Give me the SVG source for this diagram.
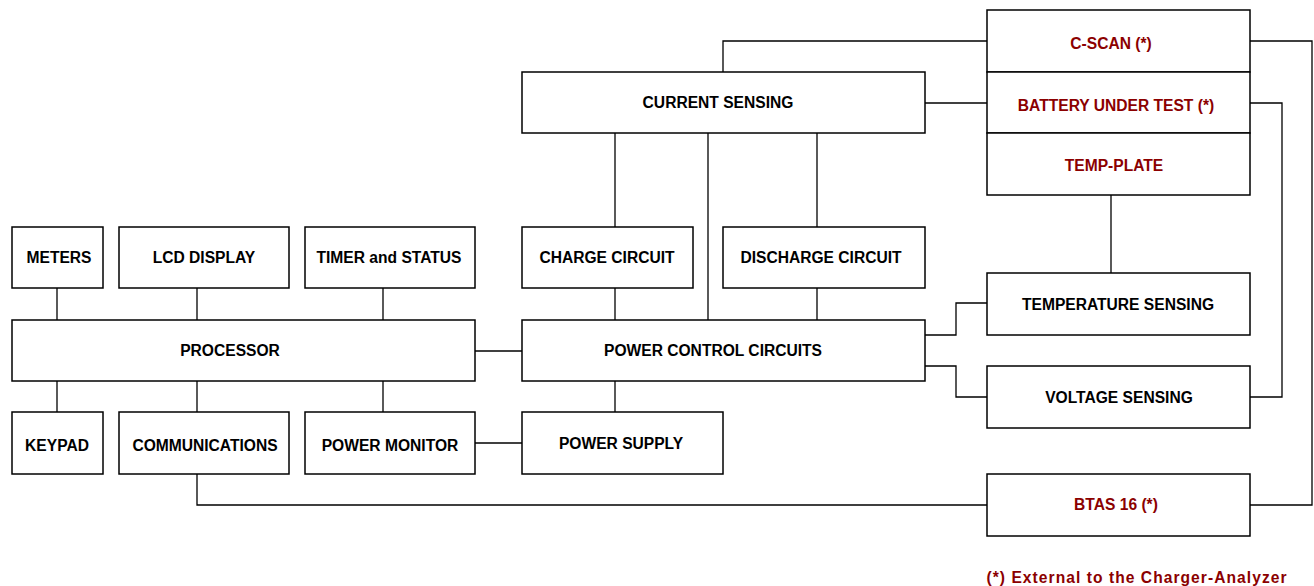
<svg xmlns="http://www.w3.org/2000/svg" width="1314" height="586" viewBox="0 0 1314 586">
<style>
rect{fill:#fff;stroke:#000;stroke-width:1.5}
.c path,.c line{fill:none;stroke:#000;stroke-width:1.3}
text{font-family:"Liberation Sans",Arial,sans-serif;font-weight:bold;font-size:15.6px;text-anchor:middle;fill:#000}
.r{fill:#8B0000}
</style>
<rect width="1314" height="586" style="fill:#fff;stroke:none"/>
<g class="c">
<line x1="57" y1="288" x2="57" y2="320"/>
<line x1="197" y1="288" x2="197" y2="320"/>
<line x1="383" y1="288" x2="383" y2="320"/>
<line x1="57" y1="381" x2="57" y2="412"/>
<line x1="197" y1="381" x2="197" y2="412"/>
<line x1="383" y1="381" x2="383" y2="412"/>
<line x1="475" y1="351" x2="522" y2="351"/>
<line x1="475" y1="443" x2="522" y2="443"/>
<path d="M197,474 V505 H987"/>
<path d="M1250,505 H1312 V41 H1250"/>
<path d="M987,41 H723 V72"/>
<line x1="925" y1="103" x2="987" y2="103"/>
<path d="M1250,103 H1282 V397 H1250"/>
<line x1="1111" y1="195" x2="1111" y2="273"/>
<path d="M925,335 H956 V303 H987"/>
<path d="M925,366 H956 V397 H987"/>
<line x1="615" y1="133" x2="615" y2="227"/>
<line x1="615" y1="288" x2="615" y2="320"/>
<line x1="708" y1="133" x2="708" y2="320"/>
<line x1="817" y1="133" x2="817" y2="227"/>
<line x1="817" y1="288" x2="817" y2="320"/>
<line x1="615" y1="381" x2="615" y2="412"/>
</g>
<g id="cscan"><rect x="987" y="10" width="263" height="62"/><text class="r" x="1111" y="49">C-SCAN (*)</text></g>
<g id="battery"><rect x="987" y="72" width="263" height="61"/><text class="r" x="1116" y="111">BATTERY UNDER TEST (*)</text></g>
<g id="tempplate"><rect x="987" y="133" width="263" height="62"/><text class="r" x="1114" y="171">TEMP-PLATE</text></g>
<g id="current"><rect x="522" y="72" width="403" height="61"/><text x="718" y="108">CURRENT SENSING</text></g>
<g id="charge"><rect x="522" y="227" width="171" height="61"/><text x="607" y="263">CHARGE CIRCUIT</text></g>
<g id="discharge"><rect x="723" y="227" width="202" height="61"/><text x="821" y="263">DISCHARGE CIRCUIT</text></g>
<g id="meters"><rect x="12" y="227" width="91" height="61"/><text x="59" y="263">METERS</text></g>
<g id="lcd"><rect x="119" y="227" width="170" height="61"/><text x="204" y="263">LCD DISPLAY</text></g>
<g id="timer"><rect x="305" y="227" width="170" height="61"/><text x="389" y="263">TIMER and STATUS</text></g>
<g id="processor"><rect x="12" y="320" width="463" height="61"/><text x="230" y="356">PROCESSOR</text></g>
<g id="powercontrol"><rect x="522" y="320" width="403" height="61"/><text x="713" y="356">POWER CONTROL CIRCUITS</text></g>
<g id="keypad"><rect x="12" y="412" width="91" height="62"/><text x="57" y="451">KEYPAD</text></g>
<g id="comms"><rect x="119" y="412" width="170" height="62"/><text x="205" y="451">COMMUNICATIONS</text></g>
<g id="powermonitor"><rect x="305" y="412" width="170" height="62"/><text x="390" y="451">POWER MONITOR</text></g>
<g id="powersupply"><rect x="522" y="412" width="201" height="62"/><text x="621" y="449">POWER SUPPLY</text></g>
<g id="tempsensing"><rect x="987" y="273" width="263" height="62"/><text x="1118" y="310">TEMPERATURE SENSING</text></g>
<g id="voltsensing"><rect x="987" y="366" width="263" height="62"/><text x="1119" y="403">VOLTAGE SENSING</text></g>
<g id="btas"><rect x="987" y="474" width="263" height="62"/><text class="r" x="1116" y="510">BTAS 16 (*)</text></g>
<text class="r" x="1137" y="583" style="letter-spacing:1.05px">(*) External to the Charger-Analyzer</text>
</svg>
